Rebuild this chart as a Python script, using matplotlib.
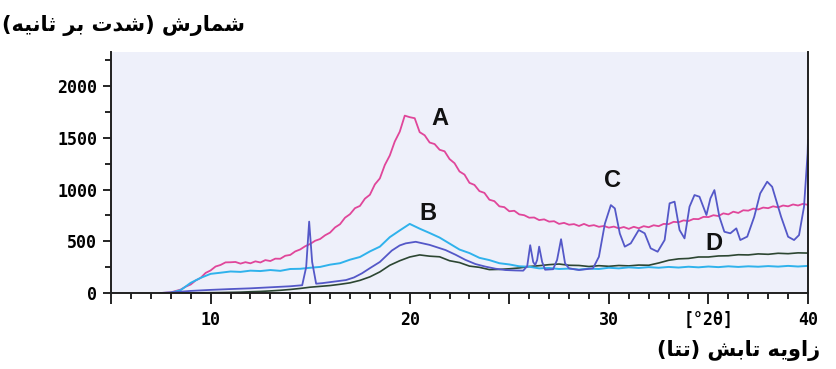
import numpy as np
import matplotlib.pyplot as plt
from matplotlib.ticker import MultipleLocator

# Zaviyeh (2-theta) sampling for the noisy curves
xa = np.arange(7.5, 40.01, 0.25)
xbd = np.arange(7.5, 40.01, 0.5)

# Curve A (pink)
a_vals = [0, 3, 6, 20, 33, 61, 82, 121, 146, 194,
          218, 256, 271, 296, 297, 300, 284, 298, 287, 306,
          295, 318, 309, 332, 331, 360, 368, 402, 421, 452,
          474, 505, 522, 558, 584, 634, 665, 728, 762, 820,
          842, 912, 950, 1050, 1108, 1238, 1330, 1465, 1560, 1715,
          1700, 1690, 1555, 1525, 1455, 1440, 1385, 1370, 1295, 1255,
          1175, 1145, 1065, 1045, 985, 968, 902, 888, 838, 830,
          790, 795, 760, 752, 728, 730, 705, 712, 690, 694,
          668, 678, 660, 666, 648, 668, 648, 656, 640, 648,
          632, 642, 625, 638, 620, 640, 626, 646, 636, 655,
          646, 668, 666, 688, 684, 702, 696, 716, 714, 736,
          734, 752, 744, 770, 760, 786, 774, 800, 796, 816,
          808, 826, 820, 838, 828, 846, 838, 856, 846, 862,
          852]

# Curve B (cyan)
b_vals = [0, 2, 28, 98, 146, 185, 196, 208, 204, 216,
          212, 222, 214, 232, 234, 244, 252, 274, 288, 322,
          348, 402, 448, 540, 605, 668, 622, 580, 536, 478,
          420, 386, 340, 318, 288, 276, 258, 254, 238, 242,
          232, 236, 226, 236, 232, 244, 238, 248, 242, 250,
          244, 252, 246, 254, 248, 256, 250, 258, 252, 258,
          254, 260, 255, 262, 256, 262]

# Curve D (dark green)
d_vals = [0, 0, 0, 0, 2, 3, 4, 6, 8, 12,
          15, 20, 26, 34, 44, 56, 64, 72, 84, 98,
          122, 156, 204, 268, 312, 348, 368, 356, 350, 312,
          294, 260, 248, 226, 228, 234, 242, 256, 264, 274,
          280, 268, 266, 256, 264, 258, 266, 262, 270, 268,
          290, 316, 330, 334, 348, 348, 358, 360, 370, 368,
          378, 374, 384, 380, 388, 386]

# Curve C (blue-violet), sampled unevenly around its peaks
c_x = [7.5, 8, 9, 10, 11, 12, 13, 14, 14.6, 14.8, 14.95, 15.1, 15.3, 15.6, 16,
       16.8, 17.2, 17.6, 18, 18.5, 19.1, 19.5, 19.8, 20.3, 21, 21.8, 22.3, 22.8,
       23.3, 23.8, 24.3, 24.8, 25.3, 25.7, 25.9, 26.05, 26.2, 26.3, 26.4, 26.5,
       26.65, 26.8, 27.2, 27.4, 27.6, 27.8, 28, 28.5, 29.2, 29.5, 29.8, 30.1,
       30.3, 30.55, 30.8, 31.1, 31.5, 31.8, 32.1, 32.45, 32.8, 33.05, 33.3,
       33.55, 33.8, 34.05, 34.3, 34.55, 34.9, 35.1, 35.3, 35.55, 35.8, 36.1,
       36.4, 36.6, 36.95, 37.3, 37.6, 37.95, 38.2, 38.65, 39, 39.3, 39.55,
       39.8, 39.98, 40]
c_vals = [0, 5, 20, 30, 38, 45, 55, 65, 75, 250, 690, 300, 90, 95, 105,
          125, 150, 190, 240, 300, 410, 460, 480, 495, 465, 415, 370, 320,
          280, 255, 235, 222, 218, 216, 260, 462, 300, 270, 320, 448,
          300, 225, 230, 320, 520, 287, 238, 222, 238, 350, 670, 850,
          818, 575, 448, 480, 609, 577, 432, 399, 512, 867, 883,
          609, 528, 834, 947, 931, 754, 915, 995, 737, 592, 577,
          625, 512, 545, 737, 963, 1076, 1027, 737, 544, 512, 560,
          834, 1350, 1480]

x_tick_vals = [5, 10, 15, 20, 25, 30, 35, 40]
x_tick_labels = ['', '10', '', '20', '', '30', '[°2θ]', '40']
y_tick_vals = [0, 500, 1000, 1500, 2000]

# Persian axis titles, written in shaped presentation forms (visual order)
ylabel_fa = ('(\uFEEA\uFEF4\uFEE7\uFE8E\uFE9B \uFEAE\uFE91 \uFE95\uFEAA\uFEB7) '
             '\uFEB5\uFEAD\uFE8E\uFEE4\uFEB7')
xlabel_fa = ('(\uFE8E\uFE98\uFE97) \uFEB6\uFE91\uFE8E\uFE97 '
             '\uFEEA\uFEF3\uFEED\uFE8D\uFEAF')

fig = plt.figure(figsize=(8.36, 3.69), dpi=100)
ax = fig.add_axes([0.1328, 0.206, 0.8337, 0.653])
ax.set_facecolor('#eef0fa')

ax.plot(xa, a_vals, color='#e0469a', lw=1.3)
ax.plot(xbd, d_vals, color='#2c4632', lw=1.2)
ax.plot(xbd, b_vals, color='#2fb2ec', lw=1.4)
ax.plot(c_x, c_vals, color='#5458c8', lw=1.3)

ax.set_xlim(5, 40)
ax.set_ylim(0, 2330)

ax.spines['top'].set_visible(False)
for s in ['left', 'bottom', 'right']:
    ax.spines[s].set_linewidth(1.4)
    ax.spines[s].set_color('#202020')

ax.set_xticks(x_tick_vals)
ax.set_xticklabels(x_tick_labels)
ax.xaxis.set_minor_locator(MultipleLocator(1))
ax.set_yticks(y_tick_vals)
ax.yaxis.set_minor_locator(MultipleLocator(250))
ax.tick_params(axis='x', which='major', length=8, width=1.2, direction='out', pad=5)
ax.tick_params(axis='x', which='minor', length=4, width=1.2, direction='out')
ax.tick_params(axis='y', which='major', length=6, width=1.2, direction='out', pad=4)
ax.tick_params(axis='y', which='minor', length=4, width=1.2, direction='out')
ax.tick_params(right=False)
for lab in ax.get_xticklabels() + ax.get_yticklabels():
    lab.set_family('DejaVu Sans Mono')
    lab.set_fontweight('bold')
    lab.set_fontsize(12)

# Curve letters
for txt, tx, ty in [('A', 21.5, 1690), ('B', 20.9, 773), ('C', 30.2, 1092), ('D', 35.3, 483)]:
    ax.text(tx, ty, txt, fontsize=17, fontweight='bold', family='Liberation Sans',
            ha='center', va='center', color='#111111')

fig.text(0.293, 0.93, ylabel_fa, ha='right', va='center',
         fontsize=15, fontweight='bold', family='DejaVu Sans')
fig.text(0.981, 0.051, xlabel_fa, ha='right', va='center',
         fontsize=15, fontweight='bold', family='DejaVu Sans')

fig.savefig('out.png', dpi=100)
